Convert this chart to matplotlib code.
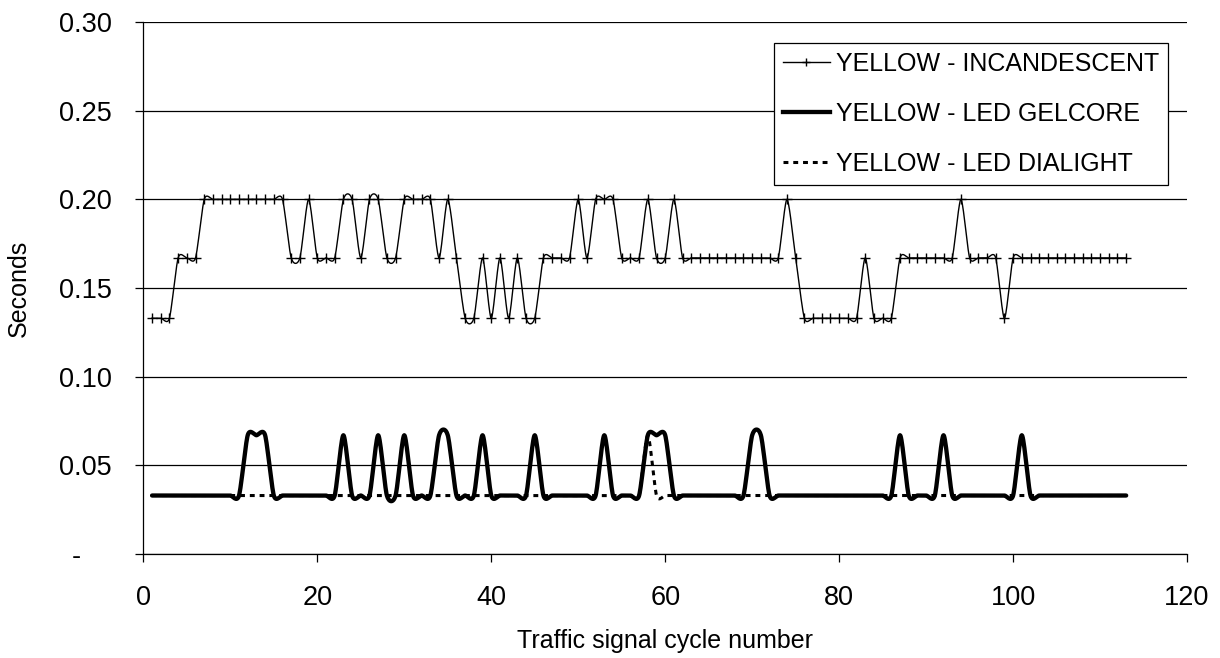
import matplotlib
matplotlib.use("Agg")
import matplotlib.pyplot as plt
import matplotlib.ticker as mticker
import numpy as np

plt.rcParams["font.family"] = ["Liberation Sans", "DejaVu Sans"]

# ── data (seconds per traffic signal cycle) ─────────────────────
cycle = np.arange(1, 114)

incandescent = [
    0.133, 0.133, 0.133, 0.167, 0.167, 0.167, 0.200, 0.200, 0.200, 0.200,   # 1-10
    0.200, 0.200, 0.200, 0.200, 0.200, 0.200, 0.167, 0.167, 0.200, 0.167,   # 11-20
    0.167, 0.167, 0.200, 0.200, 0.167, 0.200, 0.200, 0.167, 0.167, 0.200,   # 21-30
    0.200, 0.200, 0.200, 0.167, 0.200, 0.167, 0.133, 0.133, 0.167, 0.133,   # 31-40
    0.167, 0.133, 0.167, 0.133, 0.133, 0.167, 0.167, 0.167, 0.167, 0.200,   # 41-50
    0.167, 0.200, 0.200, 0.200, 0.167, 0.167, 0.167, 0.200, 0.167, 0.167,   # 51-60
    0.200, 0.167, 0.167, 0.167, 0.167, 0.167, 0.167, 0.167, 0.167, 0.167,   # 61-70
    0.167, 0.167, 0.167, 0.200, 0.167, 0.133, 0.133, 0.133, 0.133, 0.133,   # 71-80
    0.133, 0.133, 0.167, 0.133, 0.133, 0.133, 0.167, 0.167, 0.167, 0.167,   # 81-90
    0.167, 0.167, 0.167, 0.200, 0.167, 0.167, 0.167, 0.167, 0.133, 0.167,   # 91-100
    0.167, 0.167, 0.167, 0.167, 0.167, 0.167, 0.167, 0.167, 0.167, 0.167,   # 101-110
    0.167, 0.167, 0.167,                                                    # 111-113
]

gelcore = [
    0.033, 0.033, 0.033, 0.033, 0.033, 0.033, 0.033, 0.033, 0.033, 0.033,   # 1-10
    0.033, 0.067, 0.067, 0.067, 0.033, 0.033, 0.033, 0.033, 0.033, 0.033,   # 11-20
    0.033, 0.033, 0.067, 0.033, 0.033, 0.033, 0.067, 0.033, 0.033, 0.067,   # 21-30
    0.033, 0.033, 0.033, 0.067, 0.067, 0.033, 0.033, 0.033, 0.067, 0.033,   # 31-40
    0.033, 0.033, 0.033, 0.033, 0.067, 0.033, 0.033, 0.033, 0.033, 0.033,   # 41-50
    0.033, 0.033, 0.067, 0.033, 0.033, 0.033, 0.033, 0.067, 0.067, 0.067,   # 51-60
    0.033, 0.033, 0.033, 0.033, 0.033, 0.033, 0.033, 0.033, 0.033, 0.067,   # 61-70
    0.067, 0.033, 0.033, 0.033, 0.033, 0.033, 0.033, 0.033, 0.033, 0.033,   # 71-80
    0.033, 0.033, 0.033, 0.033, 0.033, 0.033, 0.067, 0.033, 0.033, 0.033,   # 81-90
    0.033, 0.067, 0.033, 0.033, 0.033, 0.033, 0.033, 0.033, 0.033, 0.033,   # 91-100
    0.067, 0.033, 0.033, 0.033, 0.033, 0.033, 0.033, 0.033, 0.033, 0.033,   # 101-110
    0.033, 0.033, 0.033,                                                    # 111-113
]

dialight = [
    0.033, 0.033, 0.033, 0.033, 0.033, 0.033, 0.033, 0.033, 0.033, 0.033,   # 1-10
    0.033, 0.033, 0.033, 0.033, 0.033, 0.033, 0.033, 0.033, 0.033, 0.033,   # 11-20
    0.033, 0.033, 0.033, 0.033, 0.033, 0.033, 0.033, 0.033, 0.033, 0.033,   # 21-30
    0.033, 0.033, 0.033, 0.033, 0.033, 0.033, 0.033, 0.033, 0.033, 0.033,   # 31-40
    0.033, 0.033, 0.033, 0.033, 0.033, 0.033, 0.033, 0.033, 0.033, 0.033,   # 41-50
    0.033, 0.033, 0.033, 0.033, 0.033, 0.033, 0.033, 0.067, 0.033, 0.033,   # 51-60
    0.033, 0.033, 0.033, 0.033, 0.033, 0.033, 0.033, 0.033, 0.033, 0.033,   # 61-70
    0.033, 0.033, 0.033, 0.033, 0.033, 0.033, 0.033, 0.033, 0.033, 0.033,   # 71-80
    0.033, 0.033, 0.033, 0.033, 0.033, 0.033, 0.033, 0.033, 0.033, 0.033,   # 81-90
    0.033, 0.033, 0.033, 0.033, 0.033, 0.033, 0.033, 0.033, 0.033, 0.033,   # 91-100
    0.033, 0.033, 0.033, 0.033, 0.033, 0.033, 0.033, 0.033, 0.033, 0.033,   # 101-110
    0.033, 0.033, 0.033,                                                    # 111-113
]

labels = ["YELLOW - INCANDESCENT", "YELLOW - LED GELCORE", "YELLOW - LED DIALIGHT"]


def smooth(x, y, k=1 / 8, n=16):
    """Excel 'smoothed line' 흉내 (Catmull-Rom 계열 cubic Bezier, 장력 k)"""
    x = np.asarray(x, float)
    y = np.asarray(y, float)
    t = np.linspace(0, 1, n, endpoint=False)[:, None]
    b0, b1, b2, b3 = (1 - t) ** 3, 3 * t * (1 - t) ** 2, 3 * t ** 2 * (1 - t), t ** 3
    res = []
    for v in (x, y):
        p = np.concatenate([[v[0]], v, [v[-1]]])
        p0, p1, p2, p3 = p[:-3], p[1:-2], p[2:-1], p[3:]
        c1 = p1 + (p2 - p0) * k
        c2 = p2 - (p3 - p1) * k
        seg = b0 * p1 + b1 * c1 + b2 * c2 + b3 * p2
        res.append(np.concatenate([seg.T.ravel(), [v[-1]]]))
    return res[0], res[1]


fig = plt.figure(figsize=(12.2, 6.58), dpi=100, facecolor="white")
ax = fig.add_axes([0.1175, 0.158, 0.8555, 0.8085])

# ── series ─────────────────────────────────────────────────────
sx, sy = smooth(cycle, incandescent)
ax.plot(sx, sy, color="black", linewidth=1.0, zorder=3)
ax.plot(cycle, incandescent, linestyle="none", marker="+", markersize=7.5,
        markeredgewidth=1.0, color="black", zorder=3)

sx, sy = smooth(cycle, gelcore)
ax.plot(sx, sy, color="black", linewidth=3.1, solid_capstyle="round",
        solid_joinstyle="round", zorder=4)

sx, sy = smooth(cycle, dialight)
ax.plot(sx, sy, color="black", linewidth=2.2, dashes=(1.6, 1.6), zorder=5)

# 범례용 핸들
h1, = ax.plot([], [], color="black", linewidth=1.0, marker="+", markersize=6, label=labels[0])
h2, = ax.plot([], [], color="black", linewidth=3.1, label=labels[1])
h3, = ax.plot([], [], color="black", linewidth=2.2, dashes=(1.6, 1.6), label=labels[2])

# ── axes ───────────────────────────────────────────────────────
ax.set_xlim(0, 120)
ax.set_ylim(0, 0.30)
ax.xaxis.set_major_locator(mticker.MultipleLocator(20))
ax.yaxis.set_major_locator(mticker.MultipleLocator(0.05))
ax.yaxis.set_major_formatter(
    mticker.FuncFormatter(lambda v, _: "-\u2007\u2007" if abs(v) < 1e-9 else f"{v:.2f}")
)
ax.grid(axis="y", color="black", linewidth=0.9)
ax.set_axisbelow(True)
for s in ("top", "right"):
    ax.spines[s].set_visible(False)
for s in ("left", "bottom"):
    ax.spines[s].set_color("black")
    ax.spines[s].set_linewidth(0.9)
ax.tick_params(direction="out", length=6, width=0.9, colors="black", labelsize=19.5)
ax.tick_params(axis="y", pad=17)
ax.tick_params(axis="x", pad=16)

ax.set_xlabel("Traffic signal cycle number", fontsize=18, labelpad=13)
ax.set_ylabel("Seconds", fontsize=18, labelpad=20)

leg = ax.legend(handles=[h1, h2, h3], loc="upper right", bbox_to_anchor=(0.982, 0.9605),
                fontsize=18, frameon=True, fancybox=False, edgecolor="black",
                framealpha=1, handlelength=1.9, handletextpad=0.25, labelspacing=1.04,
                borderpad=0.35, borderaxespad=0)
leg.get_frame().set_linewidth(0.9)

plt.savefig("out.png", dpi=100, facecolor="white")
plt.close(fig)
